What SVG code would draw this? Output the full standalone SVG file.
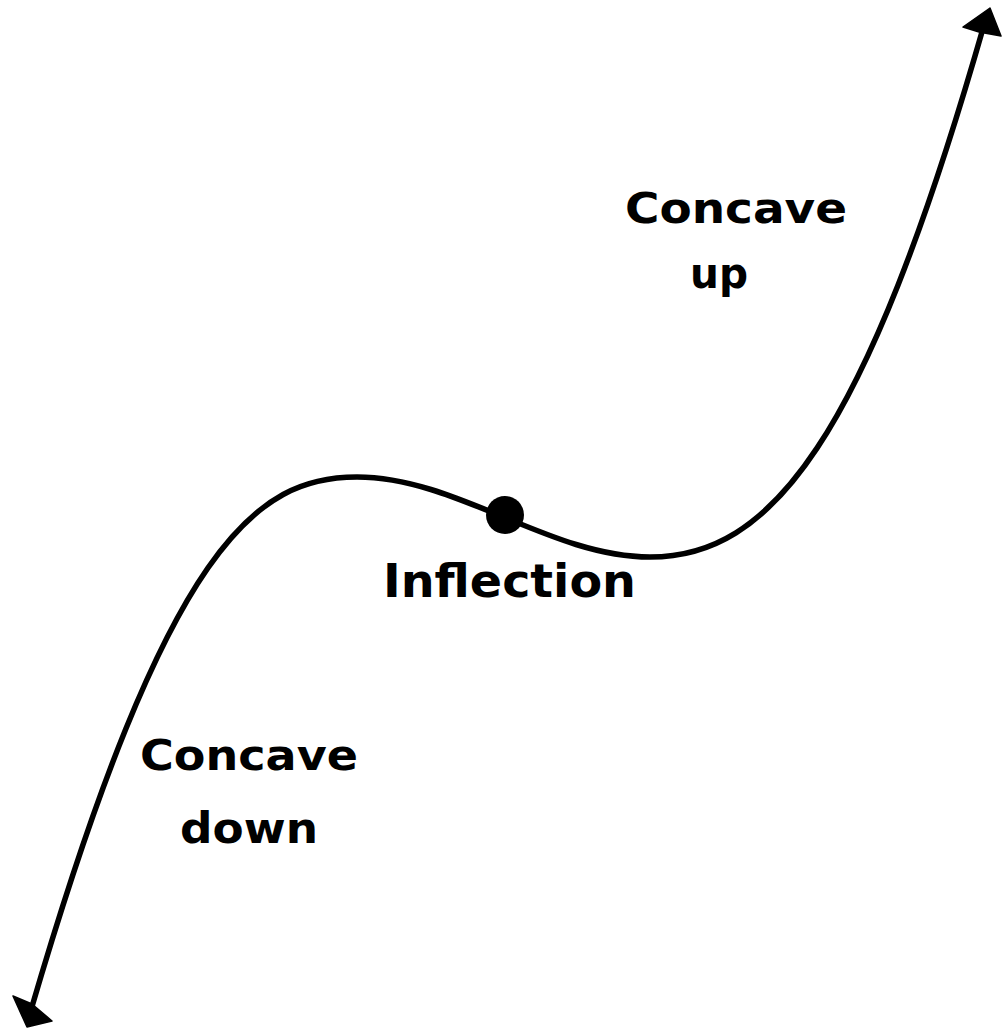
<svg xmlns="http://www.w3.org/2000/svg" width="1002" height="1028" viewBox="0 0 1002 1028">
<style>
.lbl{font-family:"DejaVu Sans","Liberation Sans",sans-serif;font-weight:bold;fill:#000}
.curve{fill:none;stroke:#000;stroke-width:5.5;stroke-linecap:round;stroke-linejoin:round}
.head{fill:#000;stroke:#000;stroke-width:1.5;stroke-linejoin:round}
</style>
<rect width="1002" height="1028" fill="#fff"/>
<g id="connectors">
<path class="curve" d="M31,1010 C168,542 257,477 357,477 C457,477 550,557 650,557 C770,557 864,444 984,25"/>
<path id="arrow-top" class="head" d="M990,8 L963,27 L979,32 L1001,36 Z"/>
<path id="arrow-bottom" class="head" d="M27,1027 L13,996 L32,1004 L52,1021 Z"/>
</g>
<g id="inflection-point">
<circle cx="505" cy="515" r="19" fill="#000"/>
<text class="lbl" x="383" y="597" font-size="47" textLength="253" lengthAdjust="spacingAndGlyphs">Inflection</text>
</g>
<g id="concave-up">
<text class="lbl" x="625" y="223" font-size="43" textLength="222" lengthAdjust="spacingAndGlyphs">Concave</text>
<text class="lbl" x="690" y="288" font-size="43" textLength="58" lengthAdjust="spacingAndGlyphs">up</text>
</g>
<g id="concave-down">
<text class="lbl" x="140" y="770" font-size="43" textLength="218" lengthAdjust="spacingAndGlyphs">Concave</text>
<text class="lbl" x="180" y="843" font-size="43" textLength="138" lengthAdjust="spacingAndGlyphs">down</text>
</g>
</svg>
